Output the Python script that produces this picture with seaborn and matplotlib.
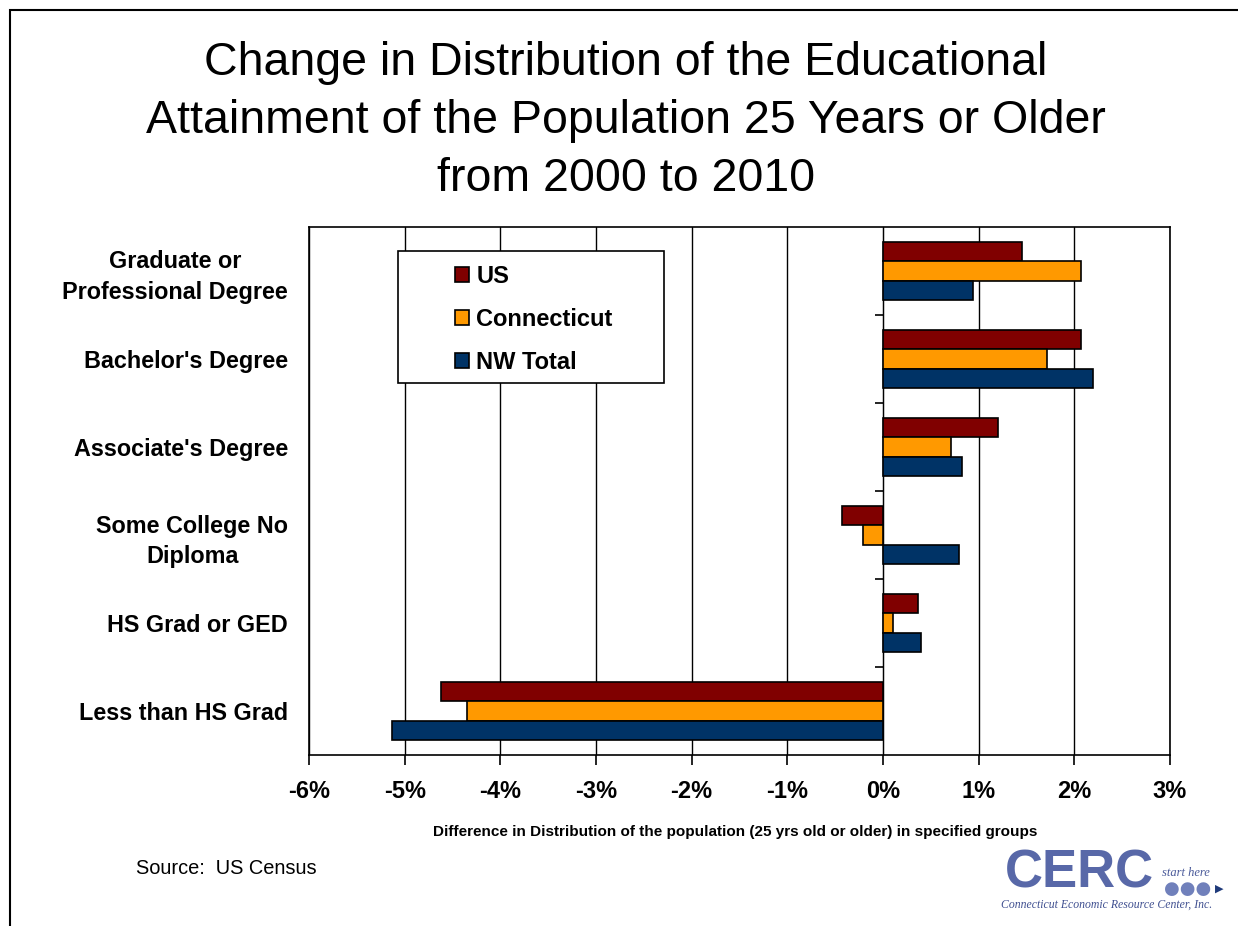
import numpy as np
import pandas as pd
import matplotlib
matplotlib.use('Agg')
import matplotlib.pyplot as plt
from matplotlib.patches import Rectangle
import seaborn as sns

sns.set_style('white')
plt.rcParams['font.family'] = ['Liberation Sans', 'DejaVu Sans']
plt.rcParams['text.color'] = 'black'
plt.rcParams['xtick.color'] = 'black'
plt.rcParams['ytick.color'] = 'black'
plt.rcParams['axes.labelcolor'] = 'black'

# Data (percentage point change 2000 -> 2010)
categories = ['Graduate or\nProfessional Degree', "Bachelor's Degree", "Associate's Degree",
              'Some College No\nDiploma', 'HS Grad or GED', 'Less than HS Grad']
regions = ['US', 'Connecticut', 'NW Total']
us_vals = [1.45, 2.07, 1.20, -0.43, 0.37, -4.62]
ct_vals = [2.07, 1.71, 0.71, -0.21, 0.10, -4.35]
nw_vals = [0.94, 2.20, 0.83, 0.79, 0.40, -5.13]
x_ticks = [-6, -5, -4, -3, -2, -1, 0, 1, 2, 3]
colors = ['#800000', '#FF9900', '#003366']

W, H = 1238, 926


def make_frame():
    """Long-form table for seaborn."""
    df = pd.DataFrame({
        'Group': categories * 3,
        'Region': np.repeat(regions, len(categories)),
        'Change': us_vals + ct_vals + nw_vals,
    })
    return df


def draw_chart(df):
    fig = plt.figure(figsize=(W / 100, H / 100), dpi=100)
    ax = fig.add_axes([309 / W, 1 - 755 / H, (1170 - 309) / W, (755 - 227) / H])

    sns.barplot(data=df, y='Group', x='Change', hue='Region', order=categories,
                hue_order=regions, palette=colors, orient='h', width=0.67,
                edgecolor='black', linewidth=1.2, saturation=1, errorbar=None,
                ax=ax, zorder=3)

    ax.set_xlim(-6, 3)
    ax.set_ylim(5.5, -0.5)
    ax.set_xticks(x_ticks)
    ax.set_xticklabels(['{}%'.format(t) for t in x_ticks])
    ax.xaxis.grid(True, color='black', linewidth=1.0)
    ax.yaxis.grid(False)
    ax.set_axisbelow(True)
    ax.set_xlabel('')
    ax.set_ylabel('')
    for s in ax.spines.values():
        s.set_visible(True)
        s.set_color('black')
        s.set_linewidth(1.2)

    ax.tick_params(axis='x', bottom=True, length=7, width=1.2, direction='out',
                   pad=11, labelsize=17)
    ax.tick_params(axis='y', left=False, length=0, pad=15, labelsize=16.8)
    for t in ax.get_xticklabels():
        t.set_fontweight('bold')
    for t in ax.get_yticklabels():
        t.set_fontweight('bold')
        t.set_multialignment('center')
        t.set_linespacing(1.4)

    # category boundary ticks sit on the zero line, pointing left
    sec = ax.secondary_yaxis(6 / 9)
    sec.set_yticks([0.5, 1.5, 2.5, 3.5, 4.5])
    sec.set_yticklabels([])
    sec.tick_params(length=6, width=1.2, direction='in', color='black')
    sec.spines['left'].set_color('black')
    sec.spines['left'].set_linewidth(1.2)

    # legend in a plain box
    handles, labels = ax.get_legend_handles_labels()
    ax.add_patch(Rectangle(((398 - 309) / 861, (755 - 383) / 528),
                           (664 - 398) / 861, (383 - 251) / 528,
                           transform=ax.transAxes, facecolor='white',
                           edgecolor='black', linewidth=1.2, zorder=5))
    leg = ax.legend(handles, labels, loc='upper left',
                    bbox_to_anchor=((455 - 309) / 861, (755 - 265) / 528),
                    frameon=False, prop={'weight': 'bold', 'size': 17},
                    handlelength=0.6, handleheight=0.6, handletextpad=0.3,
                    labelspacing=0.85, borderpad=0, borderaxespad=0)
    leg.set_zorder(6)
    for p in leg.get_patches():
        p.set_edgecolor('black')
        p.set_linewidth(1.2)

    # titles and notes
    fig.text(626 / W, 1 - 121 / H,
             'Change in Distribution of the Educational\n'
             'Attainment of the Population 25 Years or Older\n'
             'from 2000 to 2010',
             ha='center', va='center', fontsize=33.5, linespacing=1.41)
    fig.text(735 / W, 1 - 832 / H,
             'Difference in Distribution of the population (25 yrs old or older) in specified groups',
             ha='center', va='center', fontsize=11, fontweight='bold')
    fig.text(136 / W, 1 - 868 / H, 'Source:  US Census', ha='left', va='center', fontsize=14.4)

    # CERC logo, roughly
    fig.text(1079 / W, 1 - 873 / H, 'CERC', ha='center', va='center', fontsize=38,
             fontweight='bold', color='#5868a8')
    fig.text(1186 / W, 1 - 873 / H, 'start here', ha='center', va='center', fontsize=9,
             style='italic', family='Liberation Serif', color='#4a5a9a')
    fig.text(1188 / W, 1 - 889 / H, '\u25cf\u25cf\u25cf', ha='center', va='center',
             fontsize=13, family='DejaVu Sans', color='#7080bb')
    fig.text(1219 / W, 1 - 889 / H, '\u25b6', ha='center', va='center',
             fontsize=8, family='DejaVu Sans', color='#1f3a7a')
    fig.text(1107 / W, 1 - 905 / H, 'Connecticut Economic Resource Center, Inc.',
             ha='center', va='center', fontsize=8.5, style='italic',
             family='Liberation Serif', color='#3f4f90')

    # outer frame (left and top edges visible)
    fig.patches.append(Rectangle((10 / W, -1), 2, 2 - 10 / H, transform=fig.transFigure,
                                 fill=False, edgecolor='black', linewidth=1.5))
    fig.savefig('out.png', dpi=100)
    return


if __name__ == '__main__':
    draw_chart(make_frame())
